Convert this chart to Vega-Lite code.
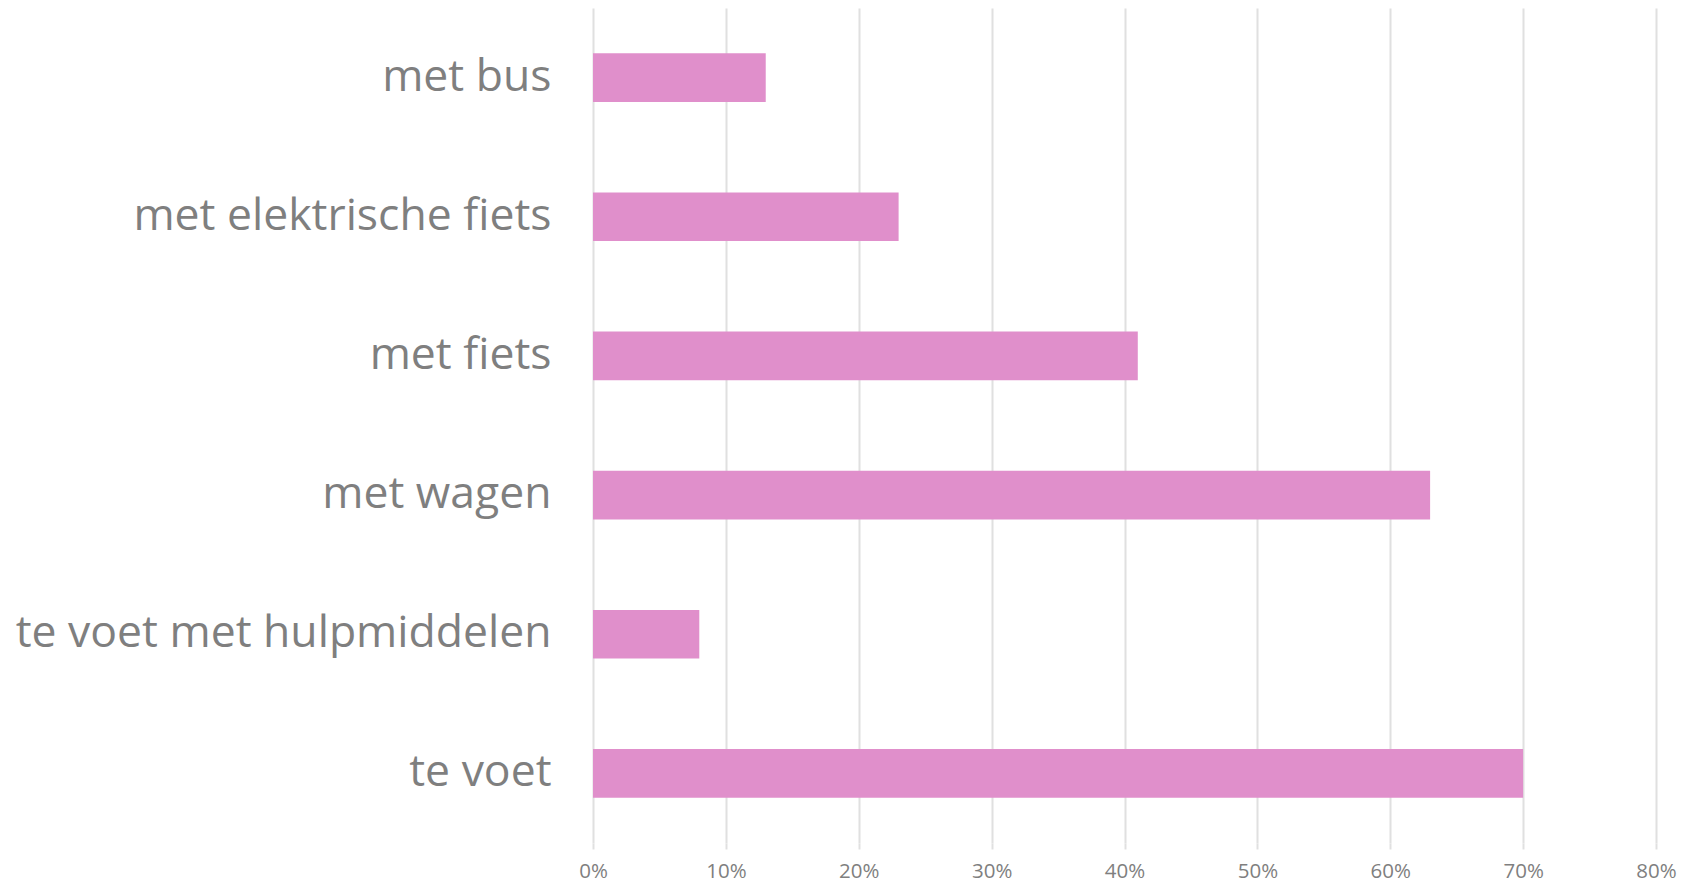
{
  "$schema": "https://vega.github.io/schema/vega-lite/v6.json",
  "autosize": "none",
  "width": 1063,
  "height": 835,
  "padding": {"left": 593, "top": 8, "right": 46, "bottom": 41},
  "background": "white",
  "data": {
    "values": [
      {"mode": "met bus", "share": 0.13},
      {"mode": "met elektrische fiets", "share": 0.23},
      {"mode": "met fiets", "share": 0.41},
      {"mode": "met wagen", "share": 0.63},
      {"mode": "te voet met hulpmiddelen", "share": 0.08},
      {"mode": "te voet", "share": 0.70}
    ]
  },
  "config": {
    "view": {"stroke": null},
    "font": "Open Sans"
  },
  "mark": {"type": "bar", "color": "#E08FCB"},
  "encoding": {
    "y": {
      "field": "mode",
      "type": "nominal",
      "sort": null,
      "scale": {"paddingInner": 0.65, "paddingOuter": 0.325},
      "axis": {
        "title": null,
        "domain": false,
        "ticks": false,
        "labelFontSize": 44.5,
        "labelFontWeight": "normal",
        "labelColor": "#7F7F7F",
        "labelPadding": 42,
        "labelFont": "Open Sans",
        "labelLimit": 700
      }
    },
    "x": {
      "field": "share",
      "type": "quantitative",
      "scale": {"domain": [0, 0.8], "nice": false},
      "axis": {
        "title": null,
        "format": ".0%",
        "values": [0, 0.1, 0.2, 0.3, 0.4, 0.5, 0.6, 0.7, 0.8],
        "domain": false,
        "ticks": true,
        "tickSize": 6,
        "tickColor": "#E0E0E0",
        "tickWidth": 2,
        "grid": true,
        "gridColor": "#E0E0E0",
        "gridWidth": 2,
        "labelFontSize": 20.5,
        "labelFontWeight": "normal",
        "labelColor": "#7F7F7F",
        "labelPadding": 12,
        "labelFlush": false,
        "labelAlign": "center",
        "labelFont": "Open Sans"
      }
    }
  }
}
